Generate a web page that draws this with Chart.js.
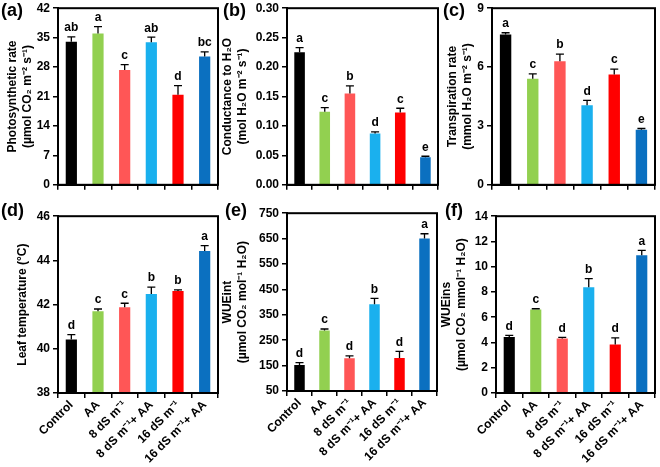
<!DOCTYPE html>
<html>
<head>
<meta charset="utf-8">
<script src="https://cdn.jsdelivr.net/npm/chart.js@4.4.1/dist/chart.umd.min.js"></script>
<style>
body{margin:0;background:#fff;}
#wrap{position:relative;width:660px;height:467px;overflow:hidden;font-family:"Liberation Sans",Arial,sans-serif;}
.panel{position:absolute;}
.tag{position:absolute;font-weight:bold;font-size:18px;line-height:18px;color:#000;}
</style>
</head>
<body>
<div id="wrap"></div>
<script>
var categories = ['Control', 'AA', '8 dS m\u207B\u00B9', '8 dS m\u207B\u00B9+ AA', '16 dS m\u207B\u00B9', '16 dS m\u207B\u00B9+ AA'];
var barColors = ['#000000', '#92D050', '#FF5656', '#1AB0EE', '#FF0000', '#0B70C0'];

// (a) photosynthetic rate
var photoRate = [34.0, 36.0, 27.3, 33.9, 21.4, 30.5];
var photoErr = [1.2, 1.6, 1.3, 1.2, 2.2, 1.1];
var photoSig = ['ab', 'a', 'c', 'ab', 'd', 'bc'];
// (b) conductance to H2O
var conductance = [0.225, 0.124, 0.155, 0.087, 0.123, 0.047];
var conductanceErr = [0.008, 0.007, 0.013, 0.003, 0.007, 0.0015];
var conductanceSig = ['a', 'c', 'b', 'd', 'c', 'e'];
// (c) transpiration rate
var transpiration = [7.66, 5.40, 6.30, 4.05, 5.62, 2.80];
var transpirationErr = [0.09, 0.25, 0.36, 0.25, 0.28, 0.07];
var transpirationSig = ['a', 'c', 'b', 'd', 'c', 'e'];
// (d) leaf temperature
var leafTemp = [40.42, 41.70, 41.88, 42.48, 42.61, 44.42];
var leafTempErr = [0.22, 0.10, 0.18, 0.31, 0.06, 0.25];
var leafTempSig = ['d', 'c', 'c', 'b', 'b', 'a'];
// (e) WUEint
var wueInt = [152, 288, 179, 392, 180, 650];
var wueIntErr = [10, 6, 9, 23, 26, 19];
var wueIntSig = ['d', 'c', 'd', 'b', 'd', 'a'];
// (f) WUEins
var wueIns = [4.44, 6.62, 4.32, 8.38, 3.85, 10.9];
var wueInsErr = [0.13, 0.05, 0.08, 0.67, 0.52, 0.40];
var wueInsSig = ['d', 'c', 'd', 'b', 'd', 'a'];

var FONT = '"Liberation Sans", Arial, sans-serif';
Chart.defaults.font.family = FONT;
Chart.defaults.color = '#000';

// error bars, letters and the closed frame
var extrasPlugin = {
    id: 'extras',
    afterDatasetsDraw: function(chart){
        var ctx = chart.ctx, y = chart.scales.y;
        var ds = chart.data.datasets[0];
        var meta = chart.getDatasetMeta(0);
        ctx.save();
        ctx.strokeStyle = '#000';
        ctx.fillStyle = '#000';
        ctx.lineWidth = 1.3;
        ctx.font = 'bold 12px ' + FONT;
        ctx.textAlign = 'center';
        ctx.textBaseline = 'bottom';
        meta.data.forEach(function(bar, i){
            var top = y.getPixelForValue(ds.data[i]);
            var hi = y.getPixelForValue(ds.data[i] + ds.errors[i]);
            ctx.beginPath();
            ctx.moveTo(bar.x, top); ctx.lineTo(bar.x, hi);
            ctx.moveTo(bar.x - 4, hi); ctx.lineTo(bar.x + 4, hi);
            ctx.stroke();
            ctx.fillText(ds.sig[i], bar.x, hi - 3);
        });
        var a = chart.chartArea;
        ctx.lineWidth = 2;
        ctx.strokeRect(a.left, a.top, a.right - a.left, a.bottom - a.top);
        ctx.restore();
    }
};

var panels = [
    {tag:'(a)', tagAt:[1,1], values:photoRate, errors:photoErr, sig:photoSig, min:0, max:42, step:7, dec:0,
     title:['Photosynthetic rate', '(\u00B5mol CO\u2082 m\u207B\u00B2 s\u207B\u00B9)'], area:[58,218,6,185], titleX:13, row:0},
    {tag:'(b)', tagAt:[223,1], values:conductance, errors:conductanceErr, sig:conductanceSig, min:0, max:0.30, step:0.05, dec:2,
     title:['Conductance to H\u2082O', '(mol H\u2082O m\u207B\u00B2 s\u207B\u00B9)'], area:[287,438,6,185], titleX:228, row:0},
    {tag:'(c)', tagAt:[443,1], values:transpiration, errors:transpirationErr, sig:transpirationSig, min:0, max:9, step:3, dec:0,
     title:['Transpiration rate', '(mmol H\u2082O m\u207B\u00B2 s\u207B\u00B9)'], area:[492,655,6,185], titleX:453, row:0},
    {tag:'(d)', tagAt:[1,201], values:leafTemp, errors:leafTempErr, sig:leafTempSig, min:38, max:46, step:2, dec:0,
     title:'Leaf temperature (\u00B0C)', area:[58,218,214,393], titleX:23, row:1},
    {tag:'(e)', tagAt:[225,201], values:wueInt, errors:wueIntErr, sig:wueIntSig, min:50, max:750, step:100, dec:0,
     title:['WUEint', '(\u00B5mol CO\u2082 mol\u207B\u00B9 H\u2082O)'], area:[287,437,211,391], titleX:228, row:1},
    {tag:'(f)', tagAt:[445,201], values:wueIns, errors:wueInsErr, sig:wueInsSig, min:0, max:14, step:2, dec:0,
     title:['WUEins', '(\u00B5mol CO\u2082 mmol\u207B\u00B9 H\u2082O)'], area:[496,655,214,393], titleX:447, row:1}
];

var wrap = document.getElementById('wrap');

panels.forEach(function(p){
    var left = p.titleX - 10;
    var top = p.area[2] - 8;
    var width = p.area[1] + 4 - left;
    var bottom = p.row === 0 ? p.area[3] + 10 : 467;
    var height = bottom - top;
    var yw = p.area[0] - left;
    var xh = bottom - p.area[3];

    var box = document.createElement('div');
    box.className = 'panel';
    box.style.left = left + 'px';
    box.style.top = top + 'px';
    var cv = document.createElement('canvas');
    cv.width = width; cv.height = height;
    cv.style.width = width + 'px'; cv.style.height = height + 'px';
    box.appendChild(cv);
    wrap.appendChild(box);

    new Chart(cv, {
        type: 'bar',
        data: {
            labels: categories,
            datasets: [{
                data: p.values, errors: p.errors, sig: p.sig,
                backgroundColor: barColors,
                barPercentage: 0.42, categoryPercentage: 1
            }]
        },
        options: {
            responsive: false, animation: false, devicePixelRatio: 1,
            layout: { padding: { top: 8, right: 4, left: 0, bottom: 0 } },
            plugins: { legend: { display: false }, tooltip: { enabled: false } },
            scales: {
                x: {
                    grid: { offset: true, drawOnChartArea: false, tickLength: 5, color: '#000', lineWidth: 1.5 },
                    border: { color: '#000', width: 2 },
                    ticks: { display: p.row === 1, color: '#000', font: { size: 12, weight: 'bold' },
                             minRotation: 45, maxRotation: 45, autoSkip: false, padding: 0 },
                    afterFit: function(s){ s.height = xh; }
                },
                y: {
                    min: p.min, max: p.max,
                    grid: { drawOnChartArea: false, tickLength: 5, color: '#000', lineWidth: 1.5 },
                    border: { color: '#000', width: 2 },
                    ticks: { stepSize: p.step, color: '#000', font: { size: 12, weight: 'bold' }, padding: 3,
                             callback: function(v){ return Number(v).toFixed(p.dec); } },
                    title: { display: true, text: p.title, color: '#000',
                             font: { size: 12, weight: 'bold', lineHeight: 1.25 }, padding: { top: 2.5, bottom: 0 } },
                    afterFit: function(s){ s.width = yw; }
                }
            }
        },
        plugins: [extrasPlugin]
    });

    var tag = document.createElement('div');
    tag.className = 'tag';
    tag.textContent = p.tag;
    tag.style.left = p.tagAt[0] + 'px';
    tag.style.top = p.tagAt[1] + 'px';
    wrap.appendChild(tag);
});
</script>
</body>
</html>
